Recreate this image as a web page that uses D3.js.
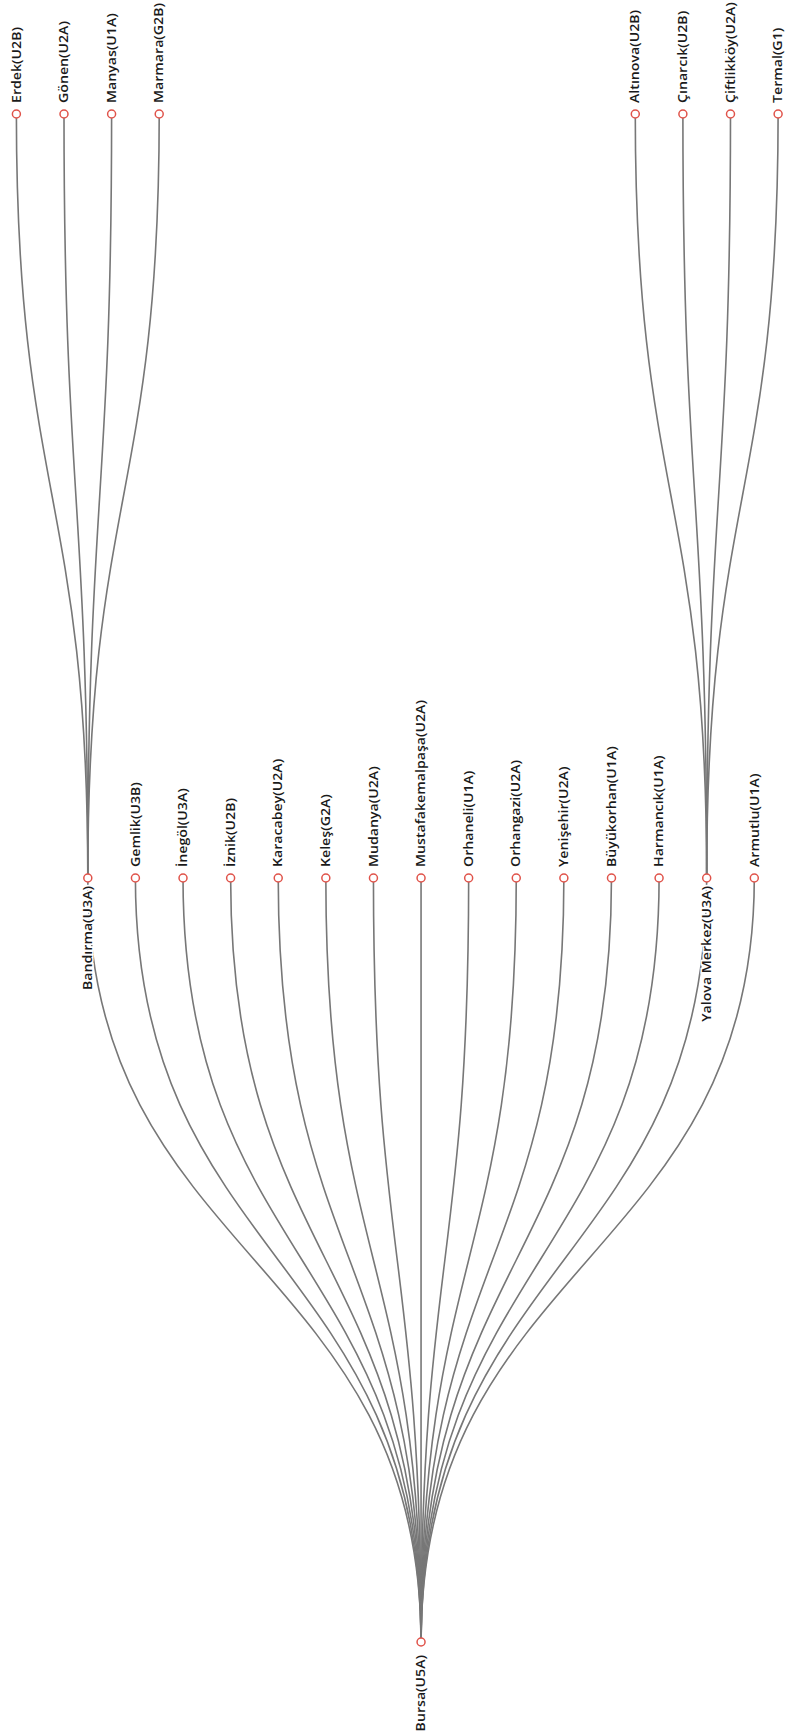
<!DOCTYPE html>
<html><head><meta charset="utf-8">
<script src="https://cdn.jsdelivr.net/npm/d3@7"></script>
<style>
html,body{margin:0;padding:0;background:#fff;}
svg{display:block;}
</style></head>
<body>
<svg id="chart" width="788" height="1735"></svg>
<script>
const rootName = "Bursa(U5A)";
const districts = ["Bandırma(U3A)","Gemlik(U3B)","İnegöl(U3A)","İznik(U2B)","Karacabey(U2A)","Keleş(G2A)","Mudanya(U2A)","Mustafakemalpaşa(U2A)","Orhaneli(U1A)","Orhangazi(U2A)","Yenişehir(U2A)","Büyükorhan(U1A)","Harmancık(U1A)","Yalova Merkez(U3A)","Armutlu(U1A)"];
const bandirmaChildren = ["Erdek(U2B)","Gönen(U2A)","Manyas(U1A)","Marmara(G2B)"];
const yalovaChildren = ["Altınova(U2B)","Çınarcık(U2B)","Çiftlikköy(U2A)","Termal(G1)"];

const childMap = {"Bandırma(U3A)": bandirmaChildren, "Yalova Merkez(U3A)": yalovaChildren};
const treeData = {name: rootName, children: districts.map(n => childMap[n] ? {name:n, children: childMap[n].map(c=>({name:c}))} : {name:n})};

const root = d3.hierarchy(treeData);
root.slot = 0;
root.eachBefore(n => {
  if (n.children) {
    const k = n.children.length;
    n.children.forEach((c,i) => { c.slot = n.slot + (i - (k-1)/2); });
  }
});
const xScale = d3.scaleLinear().domain([-7, 7]).range([87.8, 754.3]);
const yScale = d3.scaleLinear().domain([0, 2]).range([1642, 114]);
root.each(n => { n.x = xScale(n.slot); n.y = yScale(n.depth); });

const svg = d3.select("#chart");
const link = d3.linkVertical().x(d=>d.x).y(d=>d.y);

svg.append("g").attr("fill","none").attr("stroke","#777").attr("stroke-width",1.6)
  .selectAll("path").data(root.links()).join("path").attr("d", link);

const node = svg.append("g").selectAll("g").data(root.descendants()).join("g")
  .attr("transform", d => `translate(${d.x},${d.y})`);
node.append("circle").attr("r",4).attr("fill","#fff").attr("stroke","#e0534a").attr("stroke-width",1.5);
node.append("text")
  .attr("transform", d => {
    const off = d.children ? (d.depth === 0 ? 13 : 8) : -11;
    return `translate(0,${off}) rotate(-90) scale(1.18,1)`;
  })
  .attr("dy","0.35em")
  .attr("text-anchor", d => d.children ? "end" : "start")
  .attr("font-family","'Open Sans', sans-serif")
  .attr("font-weight",600)
  .attr("font-size","12px")
  .attr("fill","#1a1a1a")
  .attr("stroke","#fff").attr("stroke-width",3).attr("paint-order","stroke")
  .text(d => d.data.name);
</script>
</body></html>
